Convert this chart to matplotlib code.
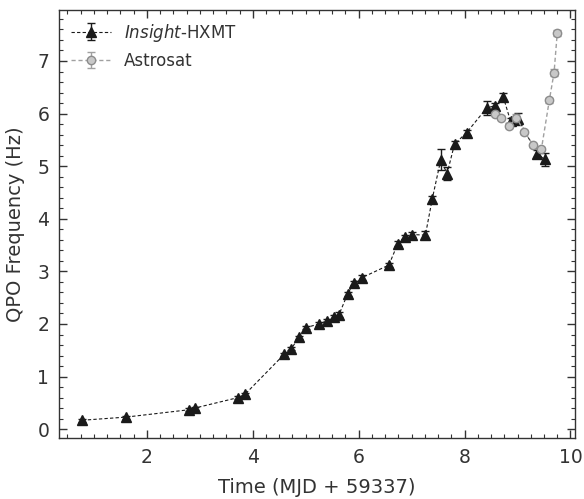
import numpy as np
import matplotlib.pyplot as plt
from matplotlib.ticker import MultipleLocator

# Insight-HXMT QPO frequencies
hxmt_t = [0.78, 1.61, 2.80, 2.90, 3.72, 3.85, 4.59, 4.73, 4.87, 5.00, 5.25, 5.40,
          5.53, 5.63, 5.79, 5.91, 6.06, 6.57, 6.74, 6.87, 7.01, 7.26, 7.39, 7.55,
          7.67, 7.81, 8.04, 8.42, 8.58, 8.73, 8.87, 9.01, 9.37, 9.51]
hxmt_f = [0.17, 0.23, 0.37, 0.40, 0.60, 0.66, 1.42, 1.53, 1.75, 1.93, 2.00, 2.06,
          2.13, 2.18, 2.57, 2.78, 2.88, 3.12, 3.53, 3.65, 3.70, 3.69, 4.38, 5.12,
          4.86, 5.42, 5.64, 6.11, 6.15, 6.32, 5.85, 5.90, 5.24, 5.13]
hxmt_err = [0.03, 0.03, 0.03, 0.03, 0.03, 0.03, 0.03, 0.03, 0.03, 0.03, 0.04, 0.03,
            0.04, 0.04, 0.04, 0.04, 0.05, 0.04, 0.04, 0.04, 0.04, 0.07, 0.06, 0.20,
            0.12, 0.05, 0.05, 0.13, 0.06, 0.07, 0.06, 0.12, 0.06, 0.13]

# Astrosat QPO frequencies
astro_t = [8.58, 8.69, 8.84, 8.98, 9.13, 9.30, 9.45, 9.60, 9.69, 9.75]
astro_f = [6.00, 5.92, 5.76, 5.92, 5.65, 5.40, 5.32, 6.25, 6.78, 7.53]
astro_err = [0.03, 0.03, 0.04, 0.08, 0.03, 0.03, 0.04, 0.04, 0.06, 0.05]

txt = '#333333'
plt.rcParams['text.color'] = txt
plt.rcParams['axes.labelcolor'] = txt
plt.rcParams['xtick.color'] = txt
plt.rcParams['ytick.color'] = txt
plt.rcParams['axes.edgecolor'] = txt

fig = plt.figure(figsize=(5.84, 4.99), dpi=100)
ax = fig.add_axes([0.101, 0.122, 0.884, 0.858])

ax.errorbar(hxmt_t, hxmt_f, yerr=hxmt_err, fmt='^', ls=(0, (3, 2)), color='#1a1a1a',
            ms=6.5, lw=0.8, elinewidth=1, capsize=3, label=r'$\it{Insight}$-HXMT')
ax.errorbar(astro_t, astro_f, yerr=astro_err, fmt='o', ls=(0, (3, 2)), color='#a0a0a0',
            ms=6, mfc='#c8c8c8', mec='#8c8c8c', lw=1, elinewidth=1, capsize=3,
            label='Astrosat')

ax.set_xlim(0.34, 10.09)
ax.set_ylim(-0.17, 7.97)
ax.xaxis.set_major_locator(MultipleLocator(2))
ax.xaxis.set_minor_locator(MultipleLocator(0.25))
ax.yaxis.set_major_locator(MultipleLocator(1))
ax.yaxis.set_minor_locator(MultipleLocator(0.2))
ax.tick_params(which='both', direction='in', top=True, right=True, labelsize=13.5)
ax.tick_params(which='major', length=6, width=1, pad=7)
ax.tick_params(which='minor', length=3, width=0.8)
for s in ax.spines.values():
    s.set_linewidth(1)

ax.set_xlabel('Time (MJD + 59337)', fontsize=14, labelpad=8)
ax.set_ylabel('QPO Frequency (Hz)', fontsize=14, labelpad=9)
ax.legend(loc='upper left', frameon=False, fontsize=12, handlelength=2.4,
          borderaxespad=0.3)

fig.savefig('out.png', dpi=100)
